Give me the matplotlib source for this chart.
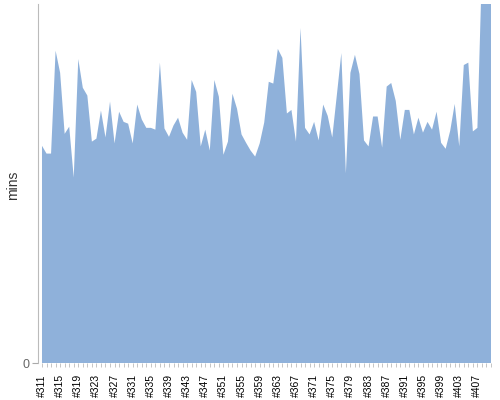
import matplotlib
matplotlib.use("Agg")
import matplotlib.pyplot as plt

# build numbers #311 .. #410
builds = list(range(311, 411))
mins = [
    36.3, 35.0, 35.0, 52.2, 48.5, 38.3, 39.5, 31.0, 50.8, 46.0,
    44.7, 37.0, 37.5, 42.2, 37.7, 43.7, 36.7, 42.0, 40.3, 40.0,
    36.7, 43.2, 40.7, 39.3, 39.3, 39.0, 50.2, 39.2, 37.8, 39.7,
    41.0, 38.5, 37.3, 47.3, 45.3, 36.2, 39.0, 35.5, 47.3, 44.5,
    34.8, 37.0, 45.0, 42.5, 38.2, 36.8, 35.5, 34.5, 36.7, 40.2,
    47.0, 46.7, 52.5, 51.0, 41.7, 42.3, 37.0, 56.0, 39.3, 38.2,
    40.3, 37.2, 43.2, 41.3, 37.7, 44.7, 51.8, 31.7, 48.5, 51.5,
    48.3, 37.2, 36.2, 41.2, 41.2, 36.0, 46.2, 46.8, 43.8, 37.3,
    42.3, 42.3, 38.2, 41.0, 38.5, 40.3, 39.0, 42.0, 36.8, 35.8,
    38.8, 43.3, 36.2, 49.8, 50.2, 38.7, 39.3, 66.0, 70.0, 64.0,
]
tick_labels = ["#%d" % b for b in builds]

plt.rcParams['font.family'] = ['Liberation Sans', 'DejaVu Sans']

fig = plt.figure(figsize=(5, 4), dpi=100)
ax = fig.add_axes([0.076, 0.0925, 0.906, 0.8975])

x = list(range(len(builds)))
ax.fill_between(x, 0, mins, color='#8fb1da', linewidth=0)

ax.set_xlim(-0.88, len(builds) - 1)
ax.set_ylim(0, 60)

ax.set_xticks(x)
ax.set_xticklabels([lbl if i % 4 == 0 else '' for i, lbl in enumerate(tick_labels)],
                   rotation=90, fontsize=7.5)
ax.tick_params(axis='x', length=3, width=0.6, color='#bbbbbb', pad=5)
ax.set_yticks([0])
ax.tick_params(axis='y', length=4, width=0.8, color='#aaaaaa', labelcolor='#666666',
               labelsize=9, pad=2)

for side in ['top', 'right', 'bottom']:
    ax.spines[side].set_visible(False)
ax.spines['left'].set_color('#bbbbbb')

fig.text(0.026, 0.5375, 'mins', rotation=90, fontsize=10, color='#333333',
         ha='center', va='center')

plt.savefig('out.png', dpi=100)
